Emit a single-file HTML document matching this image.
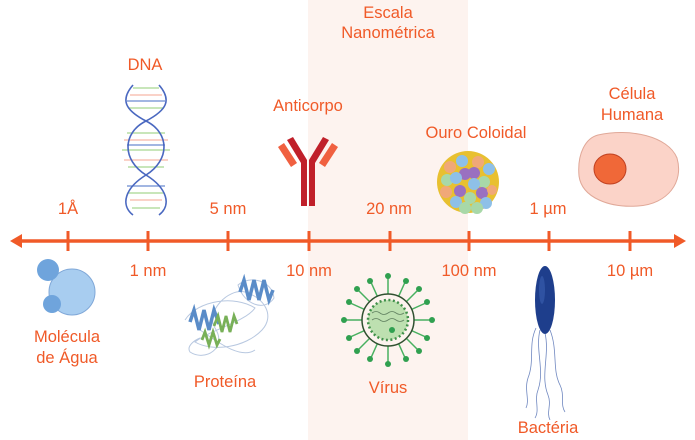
<!DOCTYPE html>
<html><head><meta charset="utf-8"><style>
html,body{margin:0;padding:0;background:#fff;}
svg{display:block;}
text{font-family:"Liberation Sans",sans-serif;font-size:16.5px;fill:#f05a28;text-anchor:middle;}
</style></head><body>
<svg width="695" height="440" viewBox="0 0 695 440" xmlns="http://www.w3.org/2000/svg">
<rect x="308" y="0" width="160" height="440" fill="#fdf3ef"/>
<!-- axis -->
<line x1="18" y1="241" x2="678" y2="241" stroke="#f05a28" stroke-width="3.5"/>
<polygon points="10,241 22,234 22,248" fill="#f05a28"/>
<polygon points="686,241 674,234 674,248" fill="#f05a28"/>
<g stroke="#f05a28" stroke-width="3">
<line x1="68" y1="231" x2="68" y2="251"/><line x1="148" y1="231" x2="148" y2="251"/>
<line x1="228" y1="231" x2="228" y2="251"/><line x1="309" y1="231" x2="309" y2="251"/>
<line x1="390" y1="231" x2="390" y2="251"/><line x1="469" y1="231" x2="469" y2="251"/>
<line x1="549" y1="231" x2="549" y2="251"/><line x1="630" y1="231" x2="630" y2="251"/>
</g>
<text x="68" y="214">1Å</text><text x="228" y="214">5 nm</text><text x="389" y="214">20 nm</text><text x="548" y="214">1 µm</text>
<text x="148" y="276">1 nm</text><text x="309" y="276">10 nm</text><text x="469" y="276">100 nm</text><text x="630" y="276">10 µm</text>
<text x="388" y="18">Escala</text><text x="388" y="38">Nanométrica</text>
<text x="145" y="70">DNA</text><text x="308" y="111">Anticorpo</text>
<text x="476" y="138">Ouro Coloidal</text>
<text x="632" y="99">Célula</text><text x="632" y="120">Humana</text>
<text x="67" y="342">Molécula</text><text x="67" y="363">de Água</text>
<text x="225" y="387">Proteína</text><text x="388" y="393">Vírus</text><text x="548" y="433">Bactéria</text>
<!-- DNA -->
<g stroke-width="1.3">
<g stroke="#f8b8a8"><line x1="130" y1="95" x2="162" y2="95"/><line x1="124" y1="140" x2="168" y2="140"/><line x1="124" y1="160" x2="168" y2="160"/><line x1="130" y1="200" x2="162" y2="200"/></g>
<g stroke="#a8d890"><line x1="133" y1="88" x2="159" y2="88"/><line x1="128" y1="108" x2="164" y2="108"/><line x1="127" y1="133" x2="165" y2="133"/><line x1="122" y1="150" x2="170" y2="150"/><line x1="128" y1="167" x2="164" y2="167"/><line x1="128" y1="193" x2="164" y2="193"/><line x1="132" y1="208" x2="160" y2="208"/></g>
<g stroke="#6a8ad0"><line x1="127" y1="101" x2="165" y2="101"/><line x1="127" y1="145" x2="165" y2="145"/><line x1="127" y1="186" x2="165" y2="186"/></g>
</g>
<g fill="none" stroke="#4a68c0" stroke-width="1.6">
<path d="M133 85 C120 100,125 110,146 121 C170 133,170 160,146 175 C125 188,120 205,133 215"/>
<path d="M159 85 C172 100,167 110,146 121 C122 133,122 160,146 175 C167 188,172 205,159 215"/>
</g>
<!-- antibody -->
<g>
<rect x="301" y="160" width="6" height="46" fill="#c0202a"/><rect x="309" y="160" width="6" height="46" fill="#c0202a"/>
<polygon points="287,140 293,137 307,160 301,163" fill="#c0202a"/>
<polygon points="329,140 323,137 309,160 315,163" fill="#c0202a"/>
<polygon points="278,147 284,143 297,163 291,167" fill="#f06040"/>
<polygon points="338,147 332,143 319,163 325,167" fill="#f06040"/>
</g>
<!-- gold -->
<circle cx="468" cy="182" r="31" fill="#e8c030"/>
<g>
<circle cx="462" cy="161" r="6" fill="#8ec0e8"/><circle cx="478" cy="162" r="6" fill="#f0a878"/><circle cx="450" cy="167" r="6" fill="#f0a878"/>
<circle cx="489" cy="169" r="6" fill="#8ec0e8"/><circle cx="465" cy="174" r="6" fill="#9a70c0"/><circle cx="474" cy="173" r="6" fill="#9a70c0"/>
<circle cx="447" cy="180" r="6" fill="#a8d8a8"/><circle cx="456" cy="178" r="6" fill="#8ec0e8"/><circle cx="484" cy="182" r="6" fill="#a8d8a8"/>
<circle cx="474" cy="184" r="6" fill="#8ec0e8"/><circle cx="446" cy="192" r="6" fill="#f0a878"/><circle cx="460" cy="191" r="6" fill="#9a70c0"/>
<circle cx="482" cy="193" r="6" fill="#9a70c0"/><circle cx="492" cy="190" r="5" fill="#f0a878"/><circle cx="456" cy="202" r="6" fill="#8ec0e8"/>
<circle cx="470" cy="198" r="6" fill="#a8d8a8"/><circle cx="486" cy="203" r="6" fill="#8ec0e8"/><circle cx="465" cy="208" r="6" fill="#a8d8a8"/><circle cx="477" cy="208" r="6" fill="#a8d8a8"/>
</g>
<!-- cell -->
<path d="M598 135 C630 128,668 136,677 158 C684 182,668 204,638 206 C610 208,582 198,579 176 C577 153,586 138,598 135Z" fill="#fbd3c8" stroke="#e0a898"/>
<ellipse cx="610" cy="169" rx="16" ry="15" fill="#f06838" stroke="#c04020"/>
<!-- water -->
<circle cx="72" cy="292" r="23" fill="#a8cdf0" stroke="#80a8d8"/>
<circle cx="48" cy="270" r="11" fill="#6fa4dc"/>
<circle cx="52" cy="304" r="9" fill="#6fa4dc"/>
<!-- protein -->
<g fill="none" stroke="#b8c8e0" stroke-width="1">
<path d="M185 320 C198 300,235 295,255 308 C245 322,210 330,195 342 C212 352,245 348,262 330 C275 316,265 298,245 292 C228 288,205 312,215 328 C228 348,205 362,190 352 C186 346,195 340,200 338"/>
<path d="M238 285 C250 275,272 280,274 298 C265 312,244 305,238 285Z"/>
<path d="M200 330 C215 340,240 360,255 350"/>
</g>
<path d="M240 292 l4 -12 l5 20 l5 -20 l5 20 l5 -20 l5 20 l4 -10" fill="none" stroke="#5a8cc8" stroke-width="3.5"/>
<path d="M190 322 l4 -12 l5 20 l5 -20 l5 20 l5 -20 l5 14" fill="none" stroke="#5a8cc8" stroke-width="3.5"/>
<path d="M214 326 l4 -10 l4 16 l4 -16 l4 16 l4 -16 l3 8" fill="none" stroke="#78b058" stroke-width="2.8"/>
<path d="M202 340 l3 -8 l4 13 l4 -13 l4 13 l3 -6" fill="none" stroke="#78b058" stroke-width="2.8"/>
<!-- virus -->
<g stroke="#48b060" stroke-width="1.5">
<line x1="388" y1="275" x2="388" y2="365"/><line x1="343" y1="320" x2="433" y2="320"/>
<line x1="356" y1="288" x2="420" y2="352"/><line x1="420" y1="288" x2="356" y2="352"/>
<line x1="370" y1="280" x2="406" y2="360"/><line x1="406" y1="280" x2="370" y2="360"/>
<line x1="348" y1="302" x2="428" y2="338"/><line x1="428" y1="302" x2="348" y2="338"/>
</g>
<g fill="#30a050">
<circle cx="388" cy="276" r="3"/><circle cx="388" cy="364" r="3"/><circle cx="344" cy="320" r="3"/><circle cx="432" cy="320" r="3"/>
<circle cx="357" cy="289" r="3"/><circle cx="419" cy="351" r="3"/><circle cx="419" cy="289" r="3"/><circle cx="357" cy="351" r="3"/>
<circle cx="370" cy="281" r="3"/><circle cx="406" cy="359" r="3"/><circle cx="406" cy="281" r="3"/><circle cx="370" cy="359" r="3"/>
<circle cx="349" cy="302" r="3"/><circle cx="427" cy="338" r="3"/><circle cx="427" cy="302" r="3"/><circle cx="349" cy="338" r="3"/>
</g>
<circle cx="388" cy="320" r="26" fill="#fdf3ef" stroke="#305030" stroke-width="1.5"/>
<circle cx="388" cy="320" r="20" fill="#bde0b0" stroke="#40904a" stroke-width="2.5" stroke-dasharray="2 2.5"/>
<path d="M372 313 q4 -3 8 0 t8 0 t8 0 t8 0 M372 320 q4 -3 8 0 t8 0 t8 0 t8 0" fill="none" stroke="#608060" stroke-width="0.8"/>
<circle cx="392" cy="330" r="3" fill="#30a050"/>
<!-- bacterium -->
<g fill="none" stroke="#7088c0" stroke-width="0.8">
<path d="M540 330 C535 350,545 370,538 390 C534 400,540 410,535 418"/>
<path d="M545 333 C550 355,540 375,548 395 C552 405,546 412,550 420"/>
<path d="M550 330 C558 350,552 370,560 385 C565 395,560 405,565 412"/>
<path d="M536 328 C528 345,535 360,528 378 C524 390,530 400,526 408"/>
</g>
<ellipse cx="545" cy="300" rx="10" ry="34" fill="#1e3e8c"/>
<ellipse cx="542" cy="290" rx="3" ry="14" fill="#3a60b0" opacity="0.6"/>
</svg>
</body></html>
